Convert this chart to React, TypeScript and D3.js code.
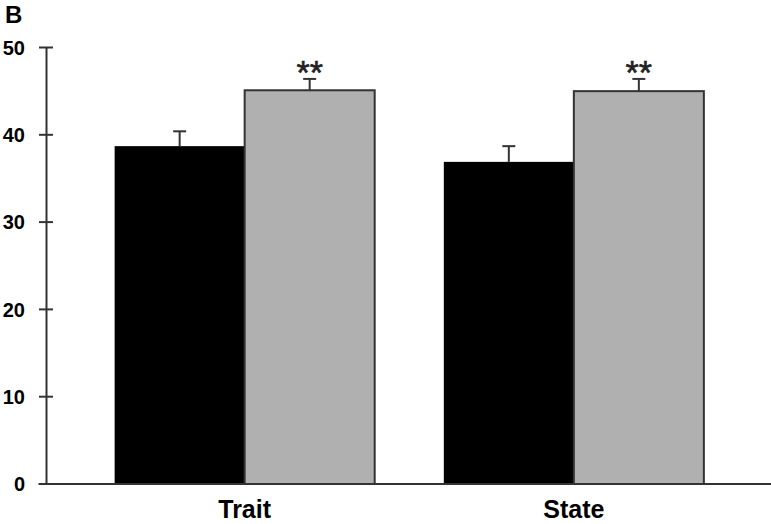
import * as d3 from "d3";

const WIDTH = 771;
const HEIGHT = 524;

const categories = ["Trait", "State"];
const groups = ["control", "patient"];
const controlMeans = [38.7, 36.9];
const controlErrors = [1.7, 1.8];
const patientMeans = [45.1, 45.0];
const patientErrors = [1.3, 1.4];
const significance = ["", "**"];
const yTicks = [0, 10, 20, 30, 40, 50];

const colors = { control: "#000000", patient: "#b0b0b0" };

export default function App() {
  const axisX = 46.5;
  const baseY = 484;

  const y = d3.scaleLinear().domain([0, 50]).range([baseY, 47.5]);
  const x = d3
    .scaleBand<string>()
    .domain(categories)
    .range([axisX, 772])
    .paddingInner(0.21)
    .paddingOuter(0.207);
  const xInner = d3
    .scaleBand<string>()
    .domain(groups)
    .range([0, x.bandwidth()]);

  const bars = categories.flatMap((c, i) => [
    { cat: c, group: "control", mean: controlMeans[i], err: controlErrors[i], sig: significance[0] },
    { cat: c, group: "patient", mean: patientMeans[i], err: patientErrors[i], sig: significance[1] },
  ]);

  const stroke = "#333333";

  return (
    <svg
      width={WIDTH}
      height={HEIGHT}
      style={{ position: "absolute", left: 0, top: 0 }}
      fontFamily="'Liberation Sans', Arial, sans-serif"
    >
      <rect width={WIDTH} height={HEIGHT} fill="#ffffff" />
      <text x={5} y={23} fontSize={24} fontWeight="bold" fill="#000">
        B
      </text>

      {bars.map((b, i) => {
        const bx = (x(b.cat) ?? 0) + (xInner(b.group) ?? 0);
        const bw = xInner.bandwidth();
        const top = y(b.mean);
        const cx = bx + bw / 2;
        const capY = y(b.mean + b.err);
        return (
          <g key={i}>
            <line x1={cx} x2={cx} y1={top} y2={capY} stroke={stroke} strokeWidth={2} />
            <line x1={cx - 6.5} x2={cx + 6.5} y1={capY} y2={capY} stroke={stroke} strokeWidth={2} />
            <rect
              x={bx}
              y={top}
              width={bw}
              height={baseY - top}
              fill={colors[b.group as keyof typeof colors]}
              stroke={b.group === "patient" ? stroke : "none"}
              strokeWidth={2}
            />
            {b.sig && (
              <text
                x={cx}
                y={84}
                textAnchor="middle"
                fontSize={34}
                fill="#222"
                stroke="#222"
                strokeWidth={0.6}
              >
                {b.sig}
              </text>
            )}
          </g>
        );
      })}

      {/* y axis */}
      <line x1={axisX} x2={axisX} y1={y(50)} y2={baseY} stroke={stroke} strokeWidth={2} />
      {yTicks.map((t) => (
        <g key={t}>
          <line x1={39} x2={53} y1={y(t)} y2={y(t)} stroke={stroke} strokeWidth={2} />
          <text
            x={25}
            y={y(t)}
            dy="0.36em"
            textAnchor="end"
            fontSize={20}
            fontWeight="bold"
            fill="#000"
          >
            {t}
          </text>
        </g>
      ))}

      {/* x axis */}
      <line x1={axisX - 8} x2={WIDTH} y1={baseY} y2={baseY} stroke={stroke} strokeWidth={2} />
      {categories.map((c) => (
        <text
          key={c}
          x={(x(c) ?? 0) + x.bandwidth() / 2}
          y={518}
          textAnchor="middle"
          fontSize={25}
          fontWeight="bold"
          fill="#000"
        >
          {c}
        </text>
      ))}
    </svg>
  );
}
